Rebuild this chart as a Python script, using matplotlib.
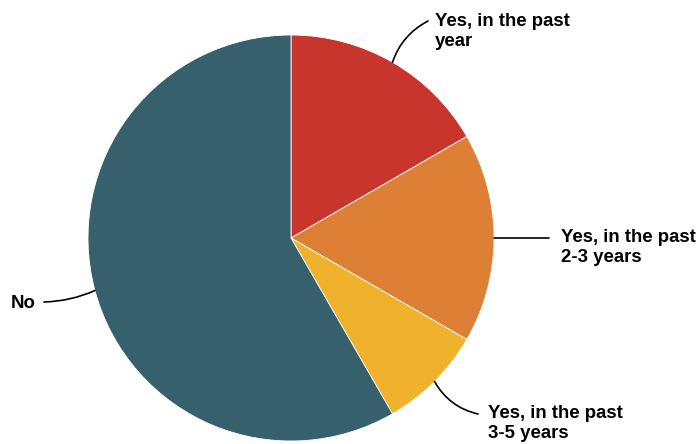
import matplotlib
matplotlib.use("Agg")
import matplotlib.pyplot as plt
import numpy as np

labels = ["Yes, in the past\nyear", "Yes, in the past\n2-3 years", "Yes, in the past\n3-5 years", "No"]
values = [2, 2, 1, 7]
colors = ["#C8352D", "#DD7F35", "#F0B22D", "#36606B"]

W, H = 699, 444
fig = plt.figure(figsize=(W / 100, H / 100), dpi=100)
ax = fig.add_axes([0, 0, 1, 1])

cx, cy, r = 291, H - 238, 203
wedges, _ = ax.pie(values, colors=colors, startangle=90, counterclock=False,
                   center=(cx, cy), radius=r, frame=True,
                   wedgeprops=dict(edgecolor="white", linewidth=0.6))
ax.set_xlim(0, W)
ax.set_ylim(0, H)
ax.set_aspect("equal")
ax.axis("off")

# label text positions (pixels, top-left of text) and line endpoints
text_pos = [(435, 13, "left"), (561, 229, "left"), (488, 405, "left"), (36, 295, "right")]
line_end = [(428, 21), (549, 238), (478, 414), (44, 302)]
rads = [0.2, 0.0, -0.22, 0.1]

for w, lab, tp, le, rad in zip(wedges, labels, text_pos, line_end, rads):
    mid = np.deg2rad((w.theta1 + w.theta2) / 2)
    px, py = cx + r * np.cos(mid), cy + r * np.sin(mid)
    ax.annotate("", xy=(px, py), xytext=(le[0], H - le[1]),
                arrowprops=dict(arrowstyle="-", color="black", lw=1.2,
                                connectionstyle=f"arc3,rad={rad}",
                                shrinkA=0, shrinkB=0))
    ax.text(tp[0], H - tp[1], lab, ha=tp[2], va="top", fontsize=13.4,
            fontweight="bold", family="Liberation Sans", color="black",
            linespacing=1.25)

fig.savefig("out.png", dpi=100)
